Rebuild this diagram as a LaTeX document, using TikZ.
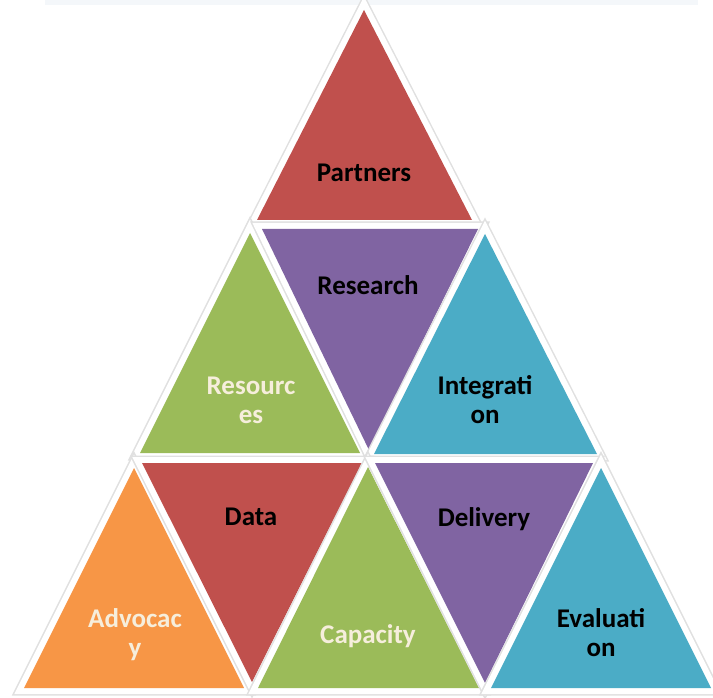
\documentclass[tikz,border=0pt]{standalone}
\usepackage{fontspec}
\setmainfont{Carlito}

\definecolor{triRed}{HTML}{C0504D}
\definecolor{triPurple}{HTML}{8064A2}
\definecolor{triGreen}{HTML}{9BBB59}
\definecolor{triBlue}{HTML}{4BACC6}
\definecolor{triOrange}{HTML}{F79646}
\definecolor{creamText}{HTML}{F6EEDC}
\definecolor{topStrip}{HTML}{F4F7FA}

\tikzset{
    tri/.style={fill=#1, line join=miter,
        preaction={draw=black!12, line width=15pt, line join=miter},
        preaction={draw=white, line width=12pt, line join=miter}},
    tritext/.style={font=\bfseries\fontsize{27}{29}\selectfont, align=center, text=black},
}

\begin{document}
\begin{tikzpicture}[x=1pt,y=-1pt]
    \useasboundingbox (0,0) rectangle (713,698);

    \fill[topStrip] (45,0) rectangle (698,5);

    % top row
    \path[tri=triRed] (364,10) -- (472,220) -- (257,220) -- cycle;

    % middle row
    \path[tri=triGreen] (250,233) -- (360,453) -- (140,453) -- cycle;
    \path[tri=triPurple] (262,229) -- (478,229) -- (369,450) -- cycle;
    \path[tri=triBlue] (485,234) -- (597,454) -- (374,454) -- cycle;

    % bottom row
    \path[tri=triOrange] (134,468) -- (244,688) -- (24,688) -- cycle;
    \path[tri=triRed] (142,463) -- (362,463) -- (252,682) -- cycle;
    \path[tri=triGreen] (368,467) -- (479,688) -- (258,688) -- cycle;
    \path[tri=triPurple] (375,463) -- (593,463) -- (485,683) -- cycle;
    \path[tri=triBlue] (601,468) -- (711,688) -- (491,688) -- cycle;

    \node[tritext] (partners) at (364,173) {Partners};
    \node[tritext] (research) at (368,285) {Research};
    \node[tritext, text=creamText] (resources) at (251,400) {Resourc\\es};
    \node[tritext] (integration) at (485,400) {Integrati\\on};
    \node[tritext] (data) at (251,517) {Data};
    \node[tritext] (delivery) at (484,519) {Delivery};
    \node[tritext, text=creamText] (advocacy) at (135,635) {Advocac\\y};
    \node[tritext, text=creamText] (capacity) at (368,636) {Capacity};
    \node[tritext] (evaluation) at (601,633) {Evaluati\\on};
\end{tikzpicture}
\end{document}
